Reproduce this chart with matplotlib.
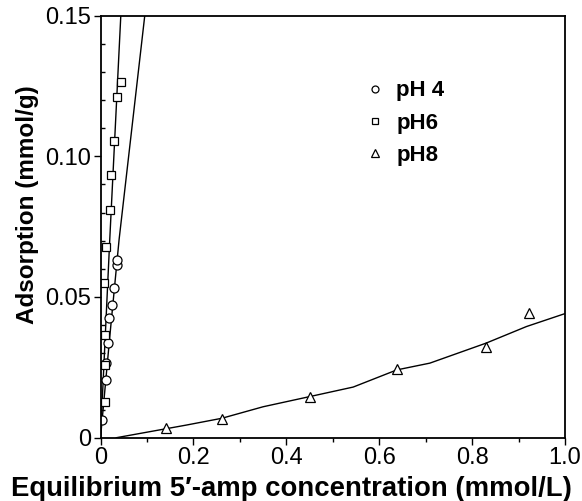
import matplotlib.pyplot as plt
from matplotlib.ticker import MultipleLocator

plt.rcParams["font.family"] = ["Liberation Sans", "DejaVu Sans"]

# measured points
ph4_x = [0.0037, 0.0108, 0.0123, 0.0157, 0.0183, 0.0255, 0.029, 0.0363, 0.0363]
ph4_y = [0.0063, 0.0206, 0.0265, 0.0336, 0.0425, 0.0473, 0.0532, 0.0615, 0.0633]

ph6_x = [0.0097, 0.0097, 0.0097, 0.0085, 0.0125, 0.0205, 0.022, 0.0291, 0.0349, 0.0435]
ph6_y = [0.0128, 0.0259, 0.0366, 0.055, 0.0678, 0.0808, 0.0932, 0.1055, 0.1209, 0.1263]

ph8_x = [0.142, 0.261, 0.450, 0.638, 0.830, 0.923]
ph8_y = [0.0033, 0.0066, 0.0146, 0.0244, 0.0322, 0.0443]

# fitted curves
fit4_x = [0.0, 0.02, 0.04, 0.0953]
fit4_y = [0.0, 0.036, 0.0704, 0.15]
fit6_x = [0.0, 0.0199, 0.0437]
fit6_y = [0.0, 0.0704, 0.15]
fit8_x = [0.034, 0.185, 0.261, 0.350, 0.450, 0.544, 0.638, 0.709, 0.830, 0.917, 1.0]
fit8_y = [0.0, 0.0045, 0.0069, 0.011, 0.0146, 0.018, 0.0241, 0.0265, 0.0336, 0.0395, 0.0441]

fig = plt.figure(figsize=(5.82, 5.01), dpi=100)
ax = fig.add_axes([0.1727, 0.1263, 0.7981, 0.8427])

ax.plot(fit4_x, fit4_y, color="black", lw=1.0)
ax.plot(fit6_x, fit6_y, color="black", lw=1.0)
ax.plot(fit8_x, fit8_y, color="black", lw=1.0)

mk = dict(color="black", markerfacecolor="white", markeredgewidth=0.9, linestyle="none")
ax.plot(ph4_x, ph4_y, marker="o", markersize=6.5, **mk)
ax.plot(ph6_x, ph6_y, marker="s", markersize=6.0, **mk)
ax.plot(ph8_x, ph8_y, marker="^", markersize=7.5, **mk)

h1, = ax.plot([], [], marker="o", markersize=5, **mk)
h2, = ax.plot([], [], marker="s", markersize=5, **mk)
h3, = ax.plot([], [], marker="^", markersize=5.5, **mk)
ax.legend([h1, h2, h3], ["pH 4", "pH6", "pH8"], loc="upper left",
          bbox_to_anchor=(0.529, 0.894), frameon=False, handlelength=0.8,
          handletextpad=0.55, labelspacing=0.51, prop={"size": 16, "weight": "bold"})

ax.set_xlim(0, 1.0)
ax.set_ylim(0, 0.15)
ax.set_xticks([0, 0.2, 0.4, 0.6, 0.8, 1.0])
ax.set_xticklabels(["0", "0.2", "0.4", "0.6", "0.8", "1.0"])
ax.set_yticks([0, 0.05, 0.10, 0.15])
ax.set_yticklabels(["0", "0.05", "0.10", "0.15"])
ax.xaxis.set_minor_locator(MultipleLocator(0.1))
ax.yaxis.set_minor_locator(MultipleLocator(0.01))
ax.tick_params(axis="both", which="major", direction="out", length=5, width=1.0,
               labelsize=17, pad=2)
ax.tick_params(axis="x", which="minor", direction="out", length=3, width=1.0)
ax.tick_params(axis="y", which="minor", direction="in", length=3, width=1.0)

for s in ax.spines.values():
    s.set_linewidth(1.3)

ax.set_xlabel("Equilibrium 5\u2032-amp concentration (mmol/L)", fontsize=19.8,
              fontweight="bold", labelpad=5)
ax.xaxis.label.set_x(0.411)
ax.set_ylabel("Adsorption (mmol/g)", fontsize=17.5, fontweight="bold", labelpad=4)
ax.yaxis.label.set_y(0.551)

plt.savefig("out.png", dpi=100)
plt.close()
